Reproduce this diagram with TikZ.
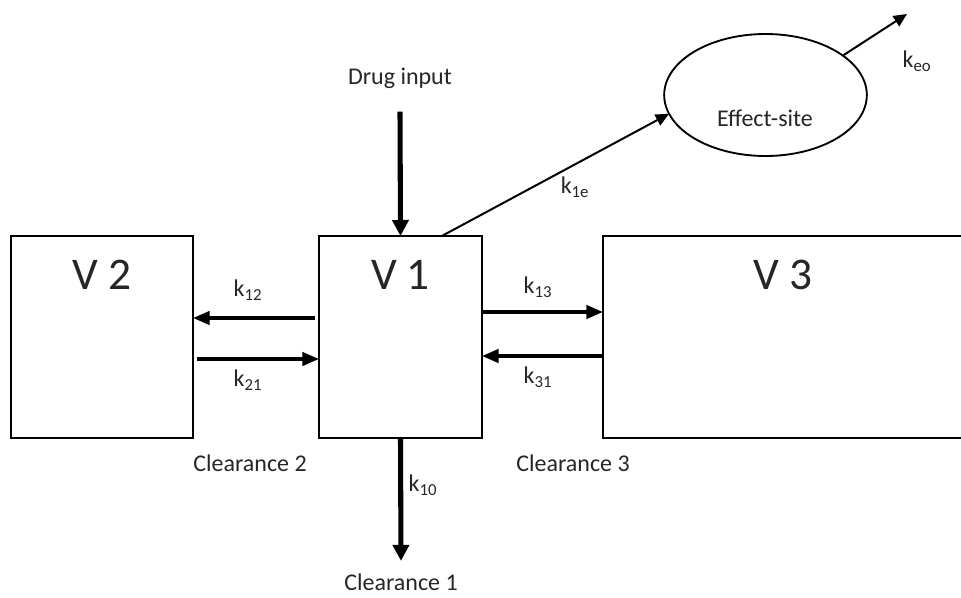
\documentclass[tikz,border=0pt]{standalone}
\usepackage{fontspec}
\setmainfont{Carlito}
\usetikzlibrary{arrows.meta,calc,positioning,shapes.geometric}
\definecolor{TextGray}{HTML}{262626}

\begin{document}
\begin{tikzpicture}[x=0.75pt,y=-0.75pt,
    compartment/.style={draw,line width=1.4pt,inner sep=0pt,outer sep=0pt,
      minimum height=151.5pt},
    bigtxt/.style={font=\fontsize{34}{38}\selectfont,text=TextGray},
    smalltxt/.style={font=\fontsize{18}{21}\selectfont,text=TextGray},
    heavyflow/.style={-{Triangle[length=12pt,width=12pt]},line width=3.8pt},
    flow/.style={-{Triangle[length=12.5pt,width=10pt]},line width=2.6pt},
    thinflow/.style={-{Triangle[length=10pt,width=9pt]},line width=1.5pt}]
  \useasboundingbox (0,0) rectangle (961,597);

  % compartments
  \node[compartment,minimum width=136.5pt] (v2) at (102,337) {};
  \node[compartment,minimum width=122.25pt] (v1) at (400.5,337) {};
  \node[compartment,minimum width=270pt] (v3) at (783,337) {};
  \foreach \name/\x/\lab in {v2/102/V 2,v1/400.5/V 1,v3/783/V 3}
    \node[bigtxt] (\name lab) at (\x,275) {\lab};

  \node[draw,ellipse,line width=1.4pt,outer sep=0pt,
    minimum width=152pt,minimum height=91.5pt] (eff) at (765.5,95) {};
  \node[smalltxt] (efflab) at (765,118) {Effect-site};

  \node[smalltxt] (input) at (400,78) {Drug input};
  \node[smalltxt] (clear1) at (401,582) {Clearance 1};
  \node[smalltxt] (clear2) at (250,463) {Clearance 2};
  \node[smalltxt] (clear3) at (573,463) {Clearance 3};

  % flows
  \draw[heavyflow] ([yshift=-14pt]input.south) -- (v1.north);
  \draw[heavyflow] (v1.south) -- ([yshift=6pt]clear1.north);
  \draw[flow] ([xshift=-3pt,yshift=14.25pt]v1.west)
    -- ([yshift=14.25pt]v1.west -| v2.east);
  \draw[flow] ([xshift=3pt,yshift=-16.5pt]v1.west -| v2.east)
    -- ([yshift=-16.5pt]v1.west);
  \draw[flow] ([yshift=18.75pt]v1.east) -- ([yshift=18.75pt]v1.east -| v3.west);
  \draw[flow] ([yshift=-14.25pt]v1.east -| v3.west) -- ([yshift=-14.25pt]v1.east);
  \draw[thinflow] ([xshift=31pt]v1.north) -- (eff.191);
  \coordinate (keoend) at (907,14);
  \draw[thinflow] (eff.27) -- (keoend);

  % rate constants
  \foreach \x/\y/\sub in {248/290/12,248/380/21,538/287/13,538/377/31,
      423/485/10,575/187/1e,917/61/eo}
    \node[smalltxt] (k\sub) at (\x,\y) {k\textsubscript{\sub}};
\end{tikzpicture}
\end{document}
